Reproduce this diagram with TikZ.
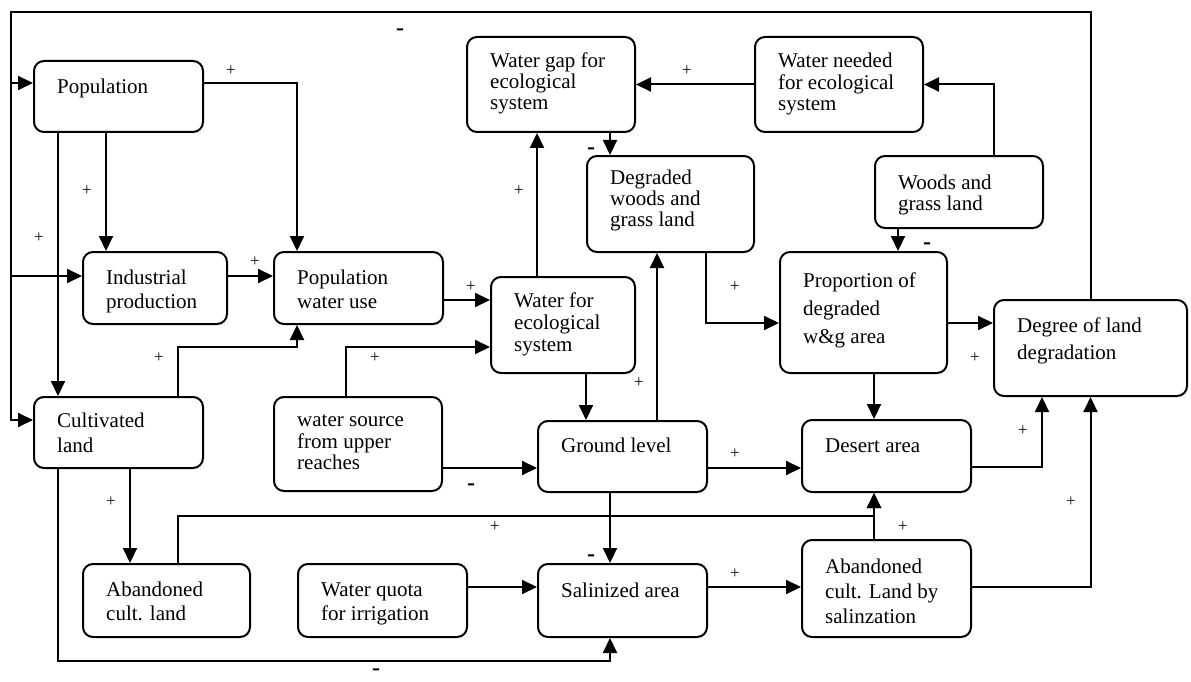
\documentclass[tikz,border=0pt]{standalone}
\usepackage{fontspec}
\setmainfont{Liberation Serif}
\usetikzlibrary{arrows.meta}
\tikzset{
 box/.style={draw, line width=2pt, rounded corners=10pt, inner sep=0pt},
 txt/.style={align=left, inner sep=0pt},
 ar/.style={line width=2pt, -{Triangle[length=15pt,width=14pt]}},
 plus/.style={font=\fontsize{17}{17}\selectfont, inner sep=0pt},
 minus/.style={font=\fontsize{24}{24}\selectfont\bfseries, inner sep=0pt},
}
\newcommand\mybox[5]{\node[box, minimum width=#4pt, minimum height=#5pt] (#1) at (#2,#3) {};}
\newcommand\mytext[5]{\node[txt, font=\fontsize{21}{#4}\selectfont, anchor=north west] (#2) at ([xshift=24pt, yshift={(0.7*#4-#3)*1pt}]#1.north west) {\strut #5};}
\begin{document}
\begin{tikzpicture}[x=1pt,y=-1pt]
\useasboundingbox (0,0) rectangle (1191,682);
% boxes
\mybox{pop}{118.5}{96.5}{169}{71}
\mybox{ind}{155}{288}{144}{72}
\mybox{pwu}{358.5}{288}{169}{72}
\mybox{cul}{118.5}{432.5}{169}{71}
\mybox{wsrc}{358}{444}{168}{94}
\mybox{wfe}{563}{325}{144}{96}
\mybox{wgap}{551}{84.5}{168}{95}
\mybox{wneed}{839}{84.5}{168}{95}
\mybox{deg}{670.5}{204}{167}{96}
\mybox{woods}{959}{192}{168}{72}
\mybox{prop}{863.5}{312.5}{167}{121}
\mybox{ldeg}{1090.5}{348}{193}{96}
\mybox{gl}{622.5}{456.5}{169}{71}
\mybox{des}{886.5}{456}{169}{72}
\mybox{abcult}{166.5}{600.5}{167}{73}
\mybox{wq}{382.5}{600.5}{169}{73}
\mybox{sal}{622.5}{600.5}{169}{73}
\mybox{absal}{886.5}{588.5}{169}{97}
% texts
\mytext{pop}{popT}{33}{21}{Population}
\begin{scope}
\clip (ind.north west) rectangle ([yshift=13pt]ind.south east);
\mytext{ind}{indT}{33}{24}{Industrial\\production}
\end{scope}
\mytext{pwu}{pwuT}{33}{24}{Population\\water use}
\mytext{cul}{culT}{31}{25}{Cultivated\\land}
\mytext{wsrc}{wsrcT}{30}{21}{water source\\from upper\\reaches}
\mytext{wfe}{wfeT}{31}{22}{Water for\\ecological\\system}
\mytext{wgap}{wgapT}{31}{21}{Water gap for\\ecological\\system}
\mytext{wneed}{wneedT}{31}{21}{Water needed\\for ecological\\system}
\mytext{deg}{degT}{29}{21}{Degraded\\woods and\\grass land}
\mytext{woods}{woodsT}{34}{21}{Woods and\\grass land}
\mytext{prop}{propT}{36}{28}{Proportion of\\degraded\\w\&g area}
\mytext{ldeg}{ldegT}{33}{27}{Degree of land\\degradation}
\mytext{gl}{glT}{32}{21}{Ground level}
\mytext{des}{desT}{33}{21}{Desert area}
\mytext{abcult}{abcultT}{33}{24}{Abandoned\\cult. land}
\begin{scope}
\clip (wq.north west) rectangle ([yshift=14pt]wq.south east);
\mytext{wq}{wqT}{33}{24}{Water quota\\for irrigation}
\end{scope}
\mytext{sal}{salT}{34}{21}{Salinized area}
\begin{scope}
\clip (absal.north west) rectangle ([yshift=14pt]absal.south east);
\mytext{absal}{absalT}{34}{25}{Abandoned\\cult. Land by\\salinzation}
\end{scope}
% connectors
\coordinate (tl) at (11,12);
\coordinate (culin) at ([yshift=-24pt]cul.north west);
\coordinate (popin) at ([yshift=-23pt]pop.north west);
\coordinate (indin) at ([yshift=-25pt]ind.north west);
\draw[ar] (ldeg.north) -- (ldeg.north |- tl) -- (tl) |- (culin);
\draw[ar] (tl |- popin) -- (popin);
\draw[ar] (tl |- indin) -- (indin);
\draw[ar] (popin -| pop.east) -| ([xshift=24pt]pwu.north west);
\draw[ar] ([xshift=25pt]pop.south west) -- ([xshift=25pt]cul.north west);
\draw[ar] ([xshift=73pt]pop.south west) -- ([xshift=24pt]ind.north west);
\draw[ar] (indin -| ind.east) -- (indin -| pwu.west);
\draw[ar] ([xshift=145pt]cul.north west) -- ++(0,-49) -| ([xshift=24pt]pwu.south west);
\draw[ar] ([xshift=73pt]wsrc.north west) |- ([yshift=-71pt]wfe.north west);
\coordinate (wfein) at ([yshift=-24pt]wfe.north west);
\draw[ar] (wfein -| pwu.east) -- (wfein);
\coordinate (p11) at ([xshift=47pt]wfe.north west);
\draw[ar] (p11) -- (p11 |- wgap.south);
\draw[ar] (wneed.west) -- (wgap.east);
\coordinate (p13) at ([xshift=24pt]deg.north west);
\draw[ar] (p13 |- wgap.south) -- (p13);
\draw[ar] ([xshift=120pt]woods.north west) |- (wneed.east);
\coordinate (p15) at ([xshift=24pt]woods.south west);
\draw[ar] (p15) -- (p15 |- prop.north);
\coordinate (propin) at ([yshift=-72pt]prop.north west);
\draw[ar] ([xshift=120pt]deg.south west) |- (propin);
\coordinate (p17) at ([xshift=120pt]gl.north west);
\draw[ar] (p17) -- (p17 |- deg.south);
\coordinate (p18) at ([xshift=96pt]wfe.south west);
\draw[ar] (p18) -- (p18 |- gl.north);
\coordinate (glin) at ([yshift=-48pt]gl.north west);
\draw[ar] (glin -| wsrc.east) -- (glin);
\draw[ar] (glin -| gl.east) -- (glin -| des.west);
\draw[ar] (propin -| prop.east) -- (propin -| ldeg.west);
\coordinate (p22) at ([xshift=95pt]prop.south west);
\draw[ar] (p22) -- (p22 |- des.north);
\coordinate (desout) at ([yshift=-48pt]des.north west);
\draw[ar] (desout -| des.east) -| ([xshift=49pt]ldeg.south west);
\coordinate (absalout) at ([yshift=-48pt]absal.north west);
\draw[ar] (absalout -| absal.east) -| (ldeg.south);
\coordinate (p25) at ([xshift=73pt]absal.north west);
\draw[ar] (p25) -- (p25 |- des.south);
\draw[ar] ([xshift=96pt]abcult.north west) -- ++(0,-47) -| ([xshift=73pt]des.south west);
\draw[ar] ([xshift=73pt]gl.south west) -- ([xshift=73pt]sal.north west);
\coordinate (salin) at ([yshift=-24pt]sal.north west);
\draw[ar] (salin -| wq.east) -- (salin);
\draw[ar] (salin -| sal.east) -- (salin -| absal.west);
\draw[ar] ([xshift=25pt]cul.south west) -- ++(0,192) -| ([xshift=73pt]sal.south west);
\draw[ar] ([xshift=97pt]cul.south west) -- ([xshift=48pt]abcult.north west);
% signs
\node[plus] (s1) at (231,71) {+};
\node[plus] (s2) at (87,191) {+};
\node[plus] (s3) at (39,238) {+};
\node[plus] (s4) at (255,262) {+};
\node[plus] (s5) at (159,358) {+};
\node[plus] (s6) at (375,358) {+};
\node[plus] (s7) at (471,287) {+};
\node[plus] (s8) at (519,191) {+};
\node[plus] (s9) at (687,71) {+};
\node[plus] (s10) at (735,287) {+};
\node[plus] (s11) at (639,383) {+};
\node[plus] (s12) at (735,454) {+};
\node[plus] (s13) at (975,358) {+};
\node[plus] (s14) at (1023,431) {+};
\node[plus] (s15) at (1071,502) {+};
\node[plus] (s16) at (903,527) {+};
\node[plus] (s17) at (495,527) {+};
\node[plus] (s18) at (111,502) {+};
\node[plus] (s19) at (735,574) {+};
\node[minus] (m1) at (400,32) {-};
\node[minus] (m2) at (591,151) {-};
\node[minus] (m3) at (927,246) {-};
\node[minus] (m4) at (471,487) {-};
\node[minus] (m5) at (591,558) {-};
\node[minus] (m6) at (376,672) {-};
\end{tikzpicture}
\end{document}
